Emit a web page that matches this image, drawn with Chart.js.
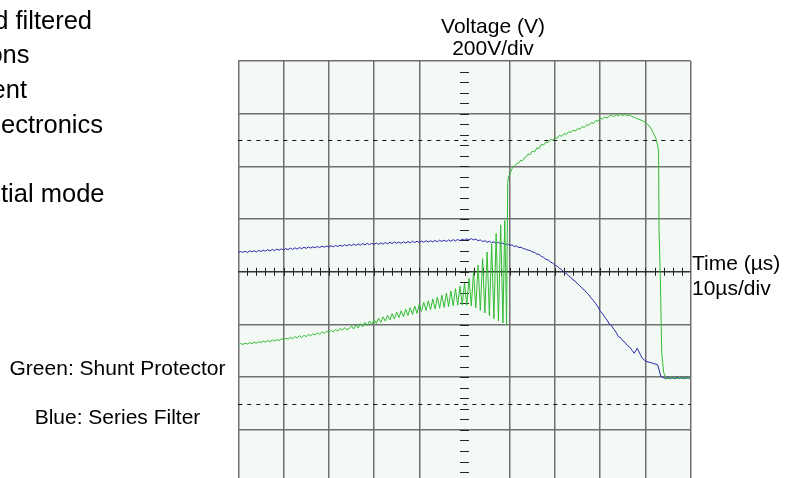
<!DOCTYPE html>
<html>
<head>
<meta charset="utf-8">
<script src="https://cdn.jsdelivr.net/npm/chart.js@4.4.1/dist/chart.umd.min.js"></script>
<style>
html, body { margin: 0; padding: 0; overflow: hidden; background: #fff; }
canvas { display: block; }
</style>
</head>
<body>
<canvas id="scope" width="785" height="490"></canvas>
<script>
// time in µs, voltage in V
const greenTime = [
  -50, -49.5, -49, -48.5, -48, -47.5, -47, -46.5, -46, -45.5, -45, -44.5, -44, -43.5, -43, -42.5,
  -42, -41.5, -41, -40.5, -40, -39.5, -39, -38.5, -38, -37.5, -37, -36.5, -36, -35.5, -35, -34.5,
  -34, -33.5, -33, -32.5, -32, -31.5, -31, -30.5, -30, -29.5, -29, -28.5, -28, -27.5, -27, -26.5,
  -26, -25.5,
  -25, -24.5, -24, -23.5, -23, -22.5, -22, -21.5, -21, -20.5, -20, -19.5, -19, -18.5, -18, -17.5,
  -17, -16.5, -16, -15.5, -15, -14.5, -14, -13.5, -13, -12.5, -12, -11.5, -11, -10.5, -10, -9.5,
  -9, -8.5, -8, -7.5, -7, -6.5, -6, -5.5, -5, -4.5, -4, -3.5, -3, -2.5, -2, -1.5, -1, -0.5,
  0, 0.5, 1, 1.5, 2, 2.5, 3, 3.5, 4, 4.5, 5, 5.5, 6, 6.5, 7, 7.5, 8, 8.5, 8.9, 9.3, 9.55, 9.75,
  10.2, 10.5, 11, 11.5, 12, 12.4, 12.8, 13.2, 13.5, 14, 14.5, 15, 15.5, 16, 16.5, 17, 17.5, 18,
  18.5, 19, 19.5, 20, 20.5, 21, 21.5, 22, 22.5, 23, 23.5, 24, 24.5, 25, 25.5, 26, 26.5, 27, 27.5,
  28, 28.5, 29, 29.5, 30, 30.5, 31, 31.5, 32, 32.5, 33, 33.5, 34, 34.5, 35, 35.5, 36, 36.5, 37,
  37.5, 38, 38.5, 39, 39.7, 40.5, 41.2, 41.8, 42.3, 42.7, 42.9, 43.0, 43.3, 43.6, 44, 44.5,
  45, 45.5, 46, 46.5, 47, 47.5, 48, 48.5, 49, 49.5, 50
];
const greenVolts = [
  -277, -272, -276, -271, -274, -269, -273, -267, -271, -265, -269, -263, -267, -261, -265, -259,
  -263, -257, -261, -254, -258, -252, -256, -249, -254, -246, -251, -243, -249, -241, -246, -238,
  -243, -235, -240, -231, -237, -228, -234, -225, -231, -222, -228, -219, -225, -215, -222, -212,
  -219, -216,
  -206, -217, -202, -213, -197, -209, -192, -204, -187, -200, -181, -196, -176, -192, -171, -187,
  -165, -183, -159, -179, -153, -174, -148, -170, -142, -166, -136, -162, -130, -158, -123, -150,
  -116, -147, -110, -144, -103, -141, -96, -138, -89, -135, -81, -132, -73, -129, -64, -127, -55, -126,
  -43, -127, -25, -130, 0, -137, 25, -146, 50, -156, 75, -166, 105, -178, 145, -186, 178, -194, 195, -200, 340, 360,
  378, 392, 400, 410, 413, 423, 421, 432, 434, 446, 445, 458, 455, 470, 468, 484, 481, 493,
  491, 503, 499, 509, 507, 518, 514, 525, 521, 532, 528, 538, 534, 544, 541, 551, 548, 558, 556,
  566, 563, 574, 571, 583, 580, 588, 583, 591, 594, 589, 597, 591, 598, 593, 597, 592, 595, 589,
  586, 582, 579, 576, 570, 560, 545, 525, 507, 480, 455, 160, -30, -307, -380, -403,
  -406, -401, -405, -401, -406, -402, -405, -401, -405, -402, -404
];
const blueTime = [
  -50, -49.5, -49, -48.5, -48, -47.5, -47, -46.5, -46, -45.5, -45, -44.5, -44, -43.5, -43, -42.5,
  -42, -41.5, -41, -40.5, -40, -39.5, -39, -38.5, -38, -37.5, -37, -36.5, -36, -35.5, -35, -34.5,
  -34, -33.5, -33, -32.5, -32, -31.5, -31, -30.5, -30, -29.5, -29, -28.5, -28, -27.5, -27, -26.5,
  -26, -25.5, -25, -24.5, -24, -23.5, -23, -22.5, -22, -21.5, -21, -20.5, -20, -19.5, -19, -18.5,
  -18, -17.5, -17, -16.5, -16, -15.5, -15, -14.5, -14, -13.5, -13, -12.5, -12, -11.5, -11, -10.5,
  -10, -9.5, -9, -8.5, -8, -7.5, -7, -6.5, -6, -5.5, -5, -4.5, -4, -3.5, -3, -2.5, -2, -1.5, -1, -0.5,
  0, 0.5, 1, 1.5, 2, 2.5, 3, 3.5, 4, 4.5, 5, 5.5, 6, 6.5, 7, 7.5, 8, 8.5, 9, 9.5, 10, 10.5, 11, 11.5,
  12, 12.5, 13, 13.5, 14, 14.5, 15, 15.5, 16, 16.5, 17, 17.5, 18, 18.5, 19, 19.5, 20, 20.5, 21, 21.5,
  22, 22.5, 23, 23.5, 24, 24.5, 25, 25.5, 26, 26.5, 27, 27.5, 28, 28.5, 29, 29.5, 30, 30.5, 31, 31.5,
  32, 32.5, 33, 33.5, 34, 34.5, 35, 35.5, 36, 36.5, 37, 37.5, 38.2, 38.8, 39.3, 40.1, 41, 41.6, 42.7,
  43.4, 44.5, 45, 45.5, 46, 46.5, 47, 47.5, 48, 48.5, 49, 49.5, 50
];
const blueVolts = [
  72, 77, 74, 78, 73, 79, 76, 80, 75, 81, 77, 82, 78, 84, 79, 85,
  80, 86, 82, 87, 83, 88, 84, 90, 85, 91, 86, 92, 88, 93, 89, 94,
  90, 95, 91, 96, 92, 97, 93, 98, 94, 99, 95, 100, 96, 101, 97, 103,
  98, 104, 99, 105, 100, 106, 101, 107, 102, 108, 103, 108, 104, 109, 104, 110,
  105, 111, 106, 112, 107, 113, 108, 113, 108, 114, 109, 115, 110, 116, 111, 116,
  111, 117, 112, 118, 113, 118, 113, 119, 114, 120, 115, 120, 115, 121, 116, 122, 117, 123, 118, 124,
  120, 125, 121, 126, 121, 124, 118, 121, 115, 118, 112, 116, 110, 114, 108, 112, 106, 109, 103, 106, 100, 102, 96, 98,
  92, 93, 88, 86, 82, 81, 75, 74, 67, 66, 58, 55, 47, 45, 37, 33, 25, 21, 13, 8,
  -2, -6, -15, -21, -31, -36, -46, -53, -63, -69, -80, -88, -100, -109, -121, -133, -149, -158, -172, -183,
  -198, -204, -218, -229, -246, -250, -262, -268, -280, -286, -297, -309, -290, -312, -328, -340, -344, -347, -353,
  -397, -406, -401, -406, -402, -406, -401, -405, -402, -406, -401, -405, -402
];
// division lines: 10 µs/div, 200 V/div
const timeDivs = [-50, -40, -30, -20, -10, 0, 10, 20, 30, 40, 50];
const voltDivs = [-800, -600, -400, -200, 0, 200, 400, 600, 800];
const dashedLevels = [500, -500];

function pts(xs, ys) {
  return xs.map((x, i) => ({ x: x, y: ys[i] }));
}

const FONT = '"Liberation Sans", Arial, sans-serif';

const screenPlugin = {
  id: 'screen',
  beforeDraw(chart) {
    const a = chart.chartArea, c = chart.ctx;
    c.save();
    c.fillStyle = '#f3f9f5';
    c.fillRect(a.left, a.top, a.right - a.left, a.bottom - a.top);
    c.restore();
  },
  beforeDatasetsDraw(chart) {
    const c = chart.ctx, a = chart.chartArea;
    const xs = chart.scales.x, ys = chart.scales.y;
    const x0 = xs.getPixelForValue(0), y0 = ys.getPixelForValue(0);
    c.save();
    // dashed reference levels
    c.strokeStyle = '#111';
    c.lineWidth = 1;
    c.setLineDash([4, 5]);
    dashedLevels.forEach(v => {
      const y = Math.round(ys.getPixelForValue(v)) + 0.5;
      c.beginPath();
      c.moveTo(a.left, y);
      c.lineTo(a.right, y);
      c.stroke();
    });
    c.setLineDash([]);
    // minor ticks on the centre axes
    c.strokeStyle = '#222';
    c.beginPath();
    for (let t = -48; t <= 48; t += 2) {
      const x = Math.round(xs.getPixelForValue(t)) + 0.5;
      c.moveTo(x, y0 - 4);
      c.lineTo(x, y0 + 4);
    }
    for (let v = -760; v <= 760; v += 40) {
      const y = Math.round(ys.getPixelForValue(v)) + 0.5;
      c.moveTo(x0 - 4.5, y);
      c.lineTo(x0 + 4.5, y);
    }
    c.stroke();
    c.restore();
  },
  afterDraw(chart) {
    const c = chart.ctx;
    c.save();
    c.fillStyle = '#000';
    c.textBaseline = 'alphabetic';
    c.font = '21px ' + FONT;
    c.textAlign = 'center';
    c.fillText('Voltage (V)', 493, 33);
    c.fillText('200V/div', 493, 55);
    c.textAlign = 'left';
    c.fillText('Time (µs)', 692, 270);
    c.fillText('10µs/div', 692, 295);
    c.textAlign = 'center';
    c.fillText('Green: Shunt Protector', 117.5, 375);
    c.fillText('Blue: Series Filter', 117.5, 424);
    c.font = '25.5px ' + FONT;
    c.textAlign = 'right';
    c.fillText('d filtered', 92, 29);
    c.fillText('ons', 29.5, 63);
    c.fillText('ent', 27, 98);
    c.fillText('ectronics', 103, 133);
    c.fillText('tial mode', 104.5, 202);
    c.restore();
  }
};

new Chart(document.getElementById('scope'), {
  type: 'line',
  data: {
    datasets: [{
      label: 'Green: Shunt Protector',
      data: pts(greenTime, greenVolts),
      borderColor: '#33bb33',
      borderWidth: 1,
      pointRadius: 0,
      tension: 0
    }, {
      label: 'Blue: Series Filter',
      data: pts(blueTime, blueVolts),
      borderColor: '#2a2aae',
      borderWidth: 1,
      pointRadius: 0,
      tension: 0
    }]
  },
  options: {
    responsive: false,
    animation: false,
    events: [],
    layout: { padding: { left: 238.3, right: 94.3, top: 61, bottom: 7.4 } },
    plugins: {
      legend: { display: false },
      tooltip: { enabled: false }
    },
    scales: {
      x: {
        type: 'linear',
        min: -50,
        max: 50,
        afterBuildTicks: s => { s.ticks = timeDivs.map(v => ({ value: v })); },
        ticks: { display: false },
        border: { display: false },
        grid: {
          drawTicks: false,
          lineWidth: 1.5,
          color: ctx => ctx.tick && ctx.tick.value === 0 ? 'rgba(0,0,0,0)' : '#707070'
        }
      },
      y: {
        type: 'linear',
        min: -800,
        max: 800,
        afterBuildTicks: s => { s.ticks = voltDivs.map(v => ({ value: v })); },
        ticks: { display: false },
        border: { display: false },
        grid: {
          drawTicks: false,
          lineWidth: 1.5,
          color: ctx => ctx.tick && ctx.tick.value === 0 ? '#333' : '#707070'
        }
      }
    }
  },
  plugins: [screenPlugin]
});
</script>
</body>
</html>
